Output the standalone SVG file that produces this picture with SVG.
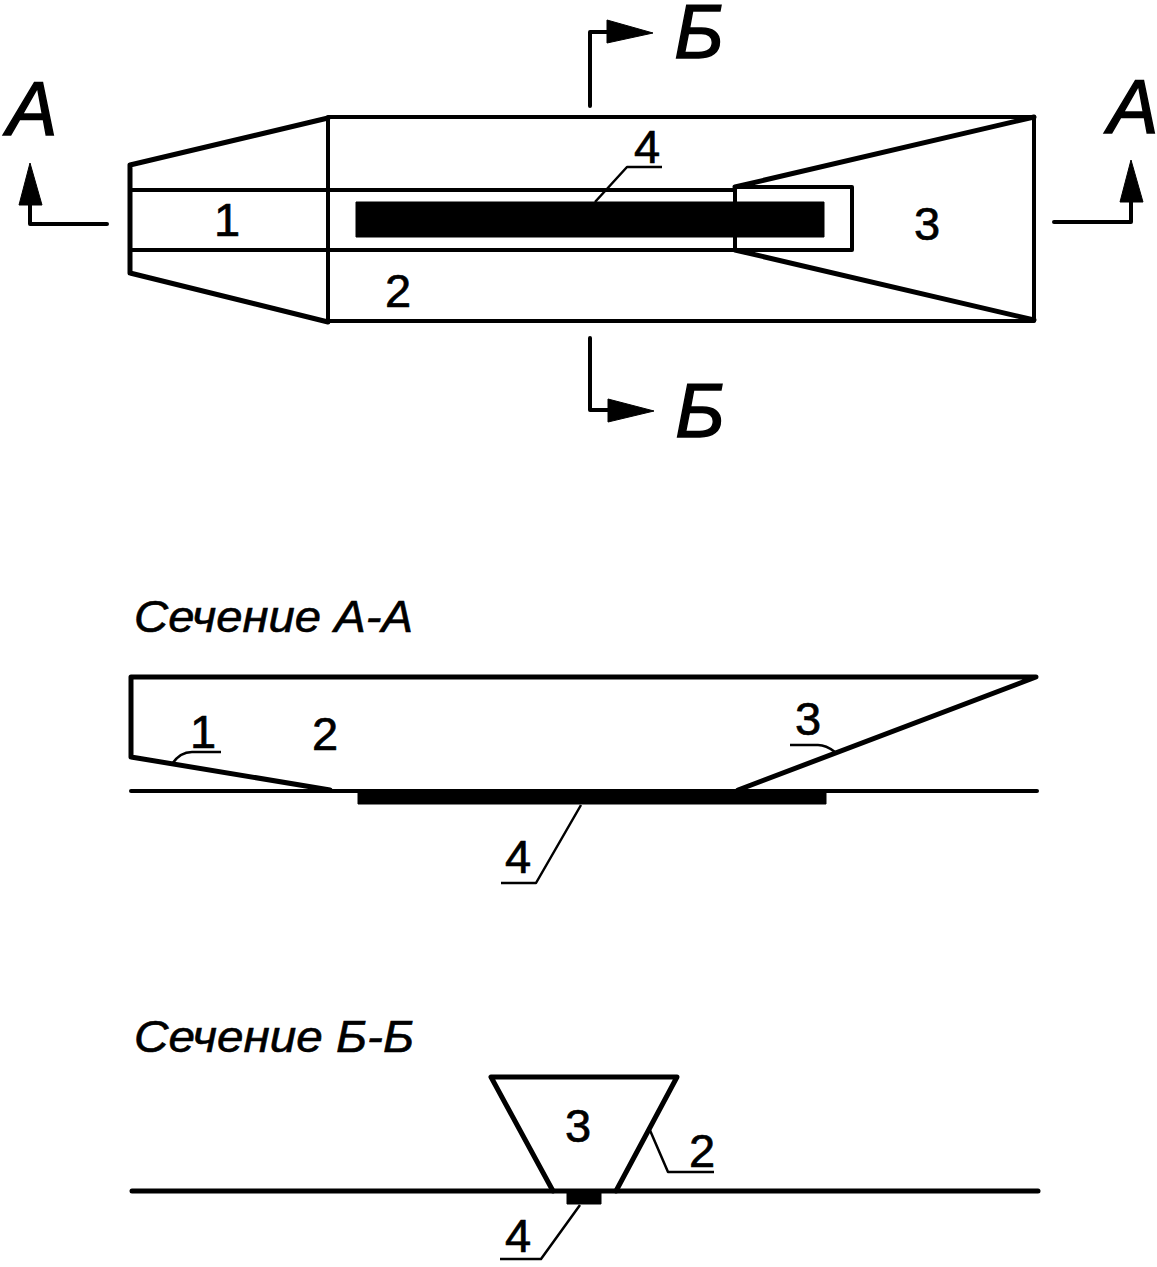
<svg xmlns="http://www.w3.org/2000/svg" width="1157" height="1267" viewBox="0 0 1157 1267">
<style>
.l{fill:none;stroke:#000;stroke-width:4;stroke-linejoin:round;stroke-linecap:round}
.m{fill:none;stroke:#000;stroke-width:5;stroke-linejoin:round;stroke-linecap:round}
.t{fill:none;stroke:#000;stroke-width:2.5;stroke-linejoin:round}
.k{fill:#000;stroke:#000;stroke-width:1;stroke-linejoin:round}
text{font-family:"Liberation Sans",Arial,sans-serif;fill:#000;stroke:#000}
.n{font-size:47px;text-anchor:middle;stroke-width:.7}
.b{font-size:76px;font-style:italic;text-anchor:middle;stroke-width:1.4}
.h{font-size:45px;font-style:italic;stroke-width:.6}
</style>
<rect width="1157" height="1267" fill="#fff"/>
<g id="plan-view">
<path class="m" d="M130 165L328 118M130 273L328 322M130 165V273"/>
<path class="l" d="M328 117V322M328 117H1034V321H328"/>
<path class="l" d="M130 190H735M130 250H852V187H735V250"/>
<path class="m" d="M735 187L1034 117M735 250L1034 320"/>
<rect class="k" x="356" y="202" width="468" height="35"/>
</g>
<g id="section-a-a">
<path class="m" d="M131 757V677H1036L738 790M131 757L330 790"/>
<path class="l" d="M131 791H1037"/>
<rect class="k" x="358" y="790" width="468" height="14"/>
</g>
<g id="section-b-b">
<path class="m" d="M553 1191L491 1077H677L616 1191"/>
<path class="m" d="M132 1191H1038"/>
<rect class="k" x="567" y="1192" width="34" height="12"/>
</g>
<g id="connectors">
<path class="l" d="M107 224H30V200"/>
<path class="k" d="M30 163L42 205H19Z"/>
<path class="l" d="M1054 222H1131V198"/>
<path class="k" d="M1131 160L1143 202H1120Z"/>
<path class="l" d="M590 106V32H612"/>
<path class="k" d="M653 33L607 20V43Z"/>
<path class="l" d="M590 338V410H612"/>
<path class="k" d="M654 411L608 399V422Z"/>
<path class="t" d="M595 202L627 167H662"/>
<path class="t" d="M172 764Q180 752 192 752H221"/>
<path class="t" d="M835 752Q826 745 818 745H790"/>
<path class="t" d="M581 805L536 883H501"/>
<path class="t" d="M649 1128L668 1172H714"/>
<path class="t" d="M580 1205L541 1259H500"/>
</g>
<g id="labels">
<text class="b" x="32" y="135">А</text>
<text class="b" x="1133" y="133">А</text>
<text class="b" x="699" y="58">Б</text>
<text class="b" x="700" y="437">Б</text>
<text class="n" x="227" y="236">1</text>
<text class="n" x="398" y="307">2</text>
<text class="n" x="927" y="240">3</text>
<text class="n" x="647" y="163">4</text>
<text class="h" x="134" y="632" textLength="279" lengthAdjust="spacingAndGlyphs">Сечение А-А</text>
<text class="n" x="203" y="748">1</text>
<text class="n" x="325" y="750">2</text>
<text class="n" x="808" y="735">3</text>
<text class="n" x="518" y="873">4</text>
<text class="h" x="134" y="1052" textLength="280" lengthAdjust="spacingAndGlyphs">Сечение Б-Б</text>
<text class="n" x="578" y="1142">3</text>
<text class="n" x="702" y="1167">2</text>
<text class="n" x="518" y="1252">4</text>
</g>
</svg>
